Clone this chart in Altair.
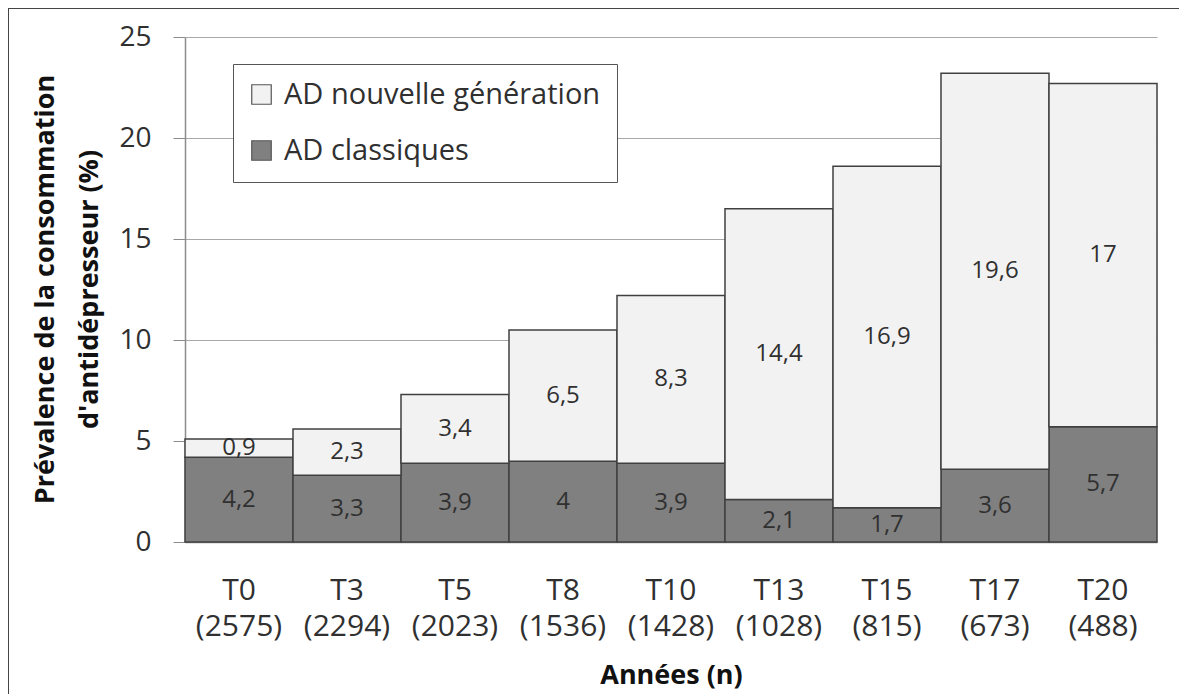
import altair as alt
import pandas as pd

years = ["T0", "T3", "T5", "T8", "T10", "T13", "T15", "T17", "T20"]
counts = [2575, 2294, 2023, 1536, 1428, 1028, 815, 673, 488]
classiques = [4.2, 3.3, 3.9, 4, 3.9, 2.1, 1.7, 3.6, 5.7]
nouvelle = [0.9, 2.3, 3.4, 6.5, 8.3, 14.4, 16.9, 19.6, 17]
series_names = ["AD nouvelle génération", "AD classiques"]

rows = []
for y, n, c, nv in zip(years, counts, classiques, nouvelle):
    lab = f"{y} ({n})"
    rows.append({"annee": lab, "serie": series_names[1], "value": c, "ord": 0})
    rows.append({"annee": lab, "serie": series_names[0], "value": nv, "ord": 1})
df = pd.DataFrame(rows)
x_order = [f"{y} ({n})" for y, n in zip(years, counts)]

FONT = "Open Sans"
TXT = "#303030"

base = alt.Chart(df).transform_stack(
    stack="value", groupby=["annee"], as_=["y0", "y1"],
    sort=[alt.SortField("ord", order="ascending")]
).transform_calculate(
    mid="(datum.y0 + datum.y1) / 2",
    txt="replace(toString(datum.value), '.', ',')"
)

xenc = alt.X(
    "annee:N", sort=x_order,
    scale=alt.Scale(paddingInner=0, paddingOuter=0),
    axis=alt.Axis(
        title="Années (n)", labelAngle=0, ticks=False, tickSize=0,
        labelExpr="split(datum.label, ' ')", labelFontSize=30, labelLineHeight=36,
        labelPadding=33, labelColor=TXT, labelFont=FONT,
        titleFont=FONT, titleFontSize=27, titleFontWeight="bold", titleColor="#111",
        titleY=141, titleBaseline="alphabetic",
        domainColor="#8c8c8c", domainWidth=1.5,
    ),
)

bars = base.mark_bar(stroke="#404040", strokeWidth=1.5).encode(
    x=xenc,
    y=alt.Y(
        "y0:Q",
        scale=alt.Scale(domain=[0, 25], nice=False, zero=True),
        axis=alt.Axis(
            values=[0, 5, 10, 15, 20, 25],
            title=["Prévalence de la consommation", "d'antidépresseur (%)"],
            titleFont=FONT, titleFontSize=27, titleFontWeight="bold", titleColor="#111",
            titleLineHeight=44, titleX=-132, titleY=252, titleAngle=270,
            titleBaseline="alphabetic", titleAlign="center",
            labelFont=FONT, labelFontSize=28, labelColor=TXT, labelPadding=22,
            tickSize=12, tickColor="#8c8c8c", domainColor="#8c8c8c", domainWidth=1.5,
            gridColor="#a8a8a8", gridWidth=1.2,
        ),
    ),
    y2="y1:Q",
    color=alt.Color(
        "serie:N",
        scale=alt.Scale(domain=series_names, range=["#f2f2f2", "#808080"]),
        legend=alt.Legend(
            title=None, orient="none", legendX=48, legendY=27,
            direction="vertical", strokeColor="#555", fillColor="white",
            padding=16, symbolOffset=-2, symbolType="square", symbolSize=380,
            symbolStrokeColor="#555", symbolStrokeWidth=1.2,
            labelFont=FONT, labelFontSize=29, labelColor=TXT, labelLimit=600,
            labelOffset=8, rowPadding=26,
        ),
    ),
    order=alt.Order("ord:Q"),
)

labels = base.mark_text(font=FONT, fontSize=24, color=TXT, baseline="middle").encode(
    x=alt.X("annee:N", sort=x_order),
    y=alt.Y("mid:Q"),
    text="txt:N",
)

frame = alt.Chart(df).mark_rect(fill=None, stroke="#444", strokeWidth=2).encode(
    x=alt.value(-177), x2=alt.value(997), y=alt.value(-29), y2=alt.value(680)
)

chart = alt.layer(bars, labels, frame).properties(
    width=972, height=505,
    padding={"left": 177, "top": 29, "right": 22, "bottom": 152},
    autosize=alt.AutoSizeParams(type="none"),
    background="white",
).configure_view(stroke=None)

chart.save("out.html", embed_options={"renderer": "svg", "actions": False})
